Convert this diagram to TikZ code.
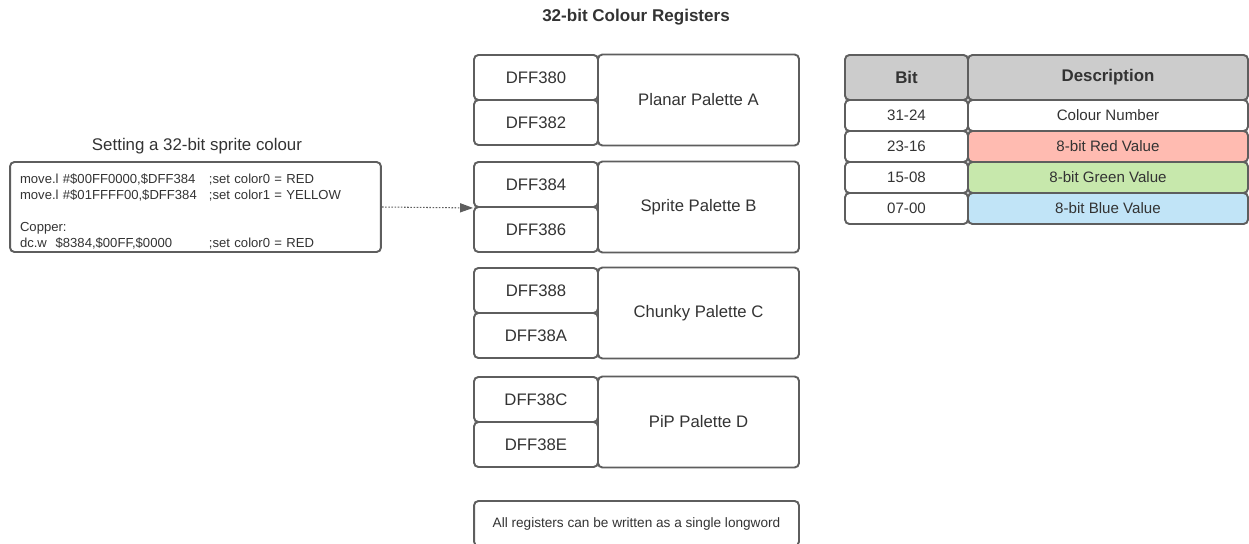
\documentclass[tikz,border=0pt]{standalone}
\usepackage{fontspec}
\setmainfont{Liberation Sans}
\usetikzlibrary{arrows.meta}

\definecolor{linegray}{HTML}{5E5E5E}
\definecolor{txt}{HTML}{333333}
\definecolor{headgray}{HTML}{CCCCCC}
\definecolor{redv}{HTML}{FFBBB1}
\definecolor{greenv}{HTML}{C7E8AC}
\definecolor{bluev}{HTML}{C1E4F7}

\tikzset{
  box/.style={draw=linegray, line width=1.1pt, rounded corners=2.5pt, inner sep=0pt, text=txt},
  reg/.style={box, minimum width=2.48cm, minimum height=0.9cm, font=\fontsize{9.5}{11}\selectfont},
  pal/.style={reg, minimum width=4.02cm, minimum height=1.82cm},
  bitcell/.style={box, minimum width=2.46cm, minimum height=0.62cm, font=\fontsize{8.6}{10}\selectfont},
  desccell/.style={bitcell, minimum width=5.6cm},
}

\begin{document}
\begin{tikzpicture}[x=0.02cm, y=-0.02cm]
  \useasboundingbox (0,0) rectangle (1249,544);

  \node[font=\bfseries\fontsize{9.7}{11}\selectfont, text=txt] (title) at (636,17) {32-bit Colour Registers};

  % register groups
  \foreach \y/\a/\b/\p/\n in {55/DFF380/DFF382/Planar Palette A/a,
                              162/DFF384/DFF386/Sprite Palette B/b,
                              268/DFF388/DFF38A/Chunky Palette C/c,
                              377/DFF38C/DFF38E/PiP Palette D/d} {
    \node[reg] (reg\a) at (536,\y+22.5) {\a};
    \node[reg] (reg\b) at (536,\y+67.5) {\b};
    \node[pal] (pal\n) at (698.5,\y+45) {\p};
  }

  \node[box, minimum width=6.5cm, minimum height=0.9cm, font=\fontsize{7.75}{9}\selectfont] (note) at (636.5,523.5)
    {All registers can be written as a single longword};

  % code example
  \node[font=\fontsize{9.6}{11}\selectfont, text=txt] (codelabel) at (197,146) {Setting a 32-bit sprite colour};
  \node[box, align=left, text width=7.02cm, inner xsep=0.2cm, minimum height=1.8cm,
        font=\fontsize{7.45}{9.1}\selectfont] (code) at (195.5,207) {%
    \rule{0pt}{10.6pt}\makebox[3.78cm][l]{move.l \#\$00FF0000,\$DFF384};set color0 = RED\\
    \makebox[3.78cm][l]{move.l \#\$01FFFF00,\$DFF384};set color1 = YELLOW\\
    \mbox{}\\
    Copper:\\
    \makebox[3.78cm][l]{dc.w\ \ \$8384,\$00FF,\$0000};set color0 = RED};

  \draw[linegray, line width=0.6pt, dash pattern=on 0.9pt off 0.9pt,
        -{Triangle[length=7.4pt, width=5.2pt, fill=linegray, sep=0pt]}] (code.east) -- (regDFF384.south west);

  % bit table
  \node[bitcell, fill=headgray, minimum height=0.9cm, font=\bfseries\fontsize{9.6}{11}\selectfont] (bithead) at (906.5,77.5) {Bit};
  \node[desccell, fill=headgray, minimum height=0.9cm, font=\bfseries\fontsize{9.6}{11}\selectfont] (deschead) at (1108,77.5) {Description};
  \foreach \y/\b/\d/\c/\n in {115.5/31-24/Colour Number/white/1,
                              146.5/23-16/8-bit Red Value/redv/2,
                              177.5/15-08/8-bit Green Value/greenv/3,
                              208.5/07-00/8-bit Blue Value/bluev/4} {
    \node[bitcell] (bit\n) at (906.5,\y) {\b};
    \node[desccell, fill=\c] (desc\n) at (1108,\y) {\d};
  }
\end{tikzpicture}
\end{document}
